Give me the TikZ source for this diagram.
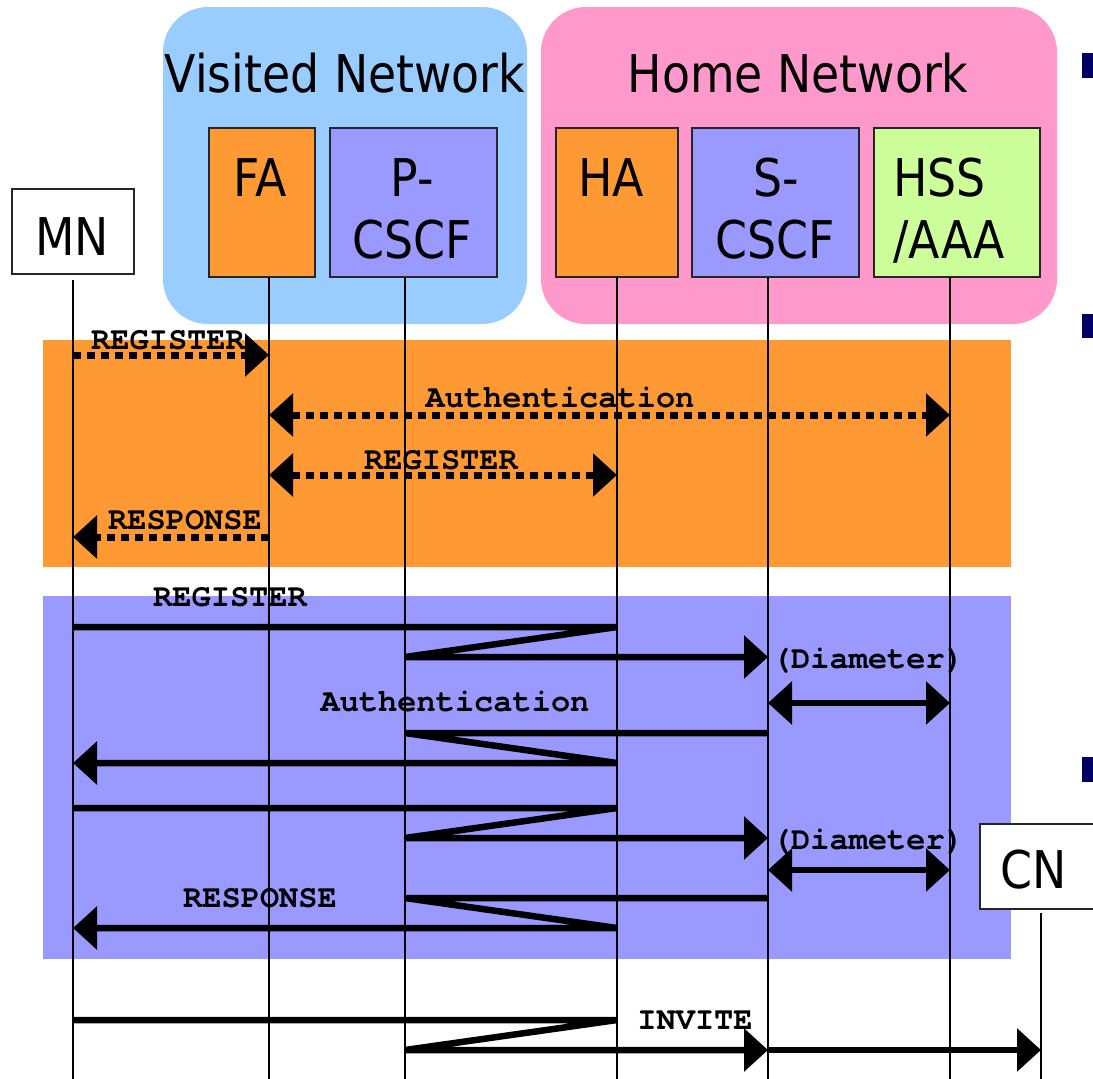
\documentclass[tikz,border=0pt]{standalone}
\usepackage{fontspec}
\setmainfont{DejaVu Sans}
\newfontfamily\tahfont[FakeStretch=0.88]{DejaVu Sans}
\newfontfamily\courfont{texgyrecursor}[Extension=.otf, UprightFont=*-regular, BoldFont=*-bold]
\usetikzlibrary{arrows.meta}
\definecolor{visblue}{HTML}{99CCFF}
\definecolor{homepink}{HTML}{FF99CC}
\definecolor{agorange}{HTML}{FF9933}
\definecolor{cscfpurple}{HTML}{9999FF}
\definecolor{hssgreen}{HTML}{CCFF99}
\definecolor{bulletnavy}{HTML}{000066}
\begin{document}
\begin{tikzpicture}[x=1pt,y=-1pt,
  hd/.style={font=\tahfont\fontsize{52pt}{62pt}\selectfont, inner sep=0pt, anchor=base},
  lbl/.style={font=\courfont\bfseries\fontsize{32pt}{36pt}\selectfont, inner sep=0pt, anchor=base},
  ent/.style={draw=black!85, line width=1.5pt, inner sep=0pt, minimum height=149pt},
  actor/.style={draw=black!85, line width=1.5pt, fill=white, inner sep=0pt, minimum width=122pt, minimum height=85pt},
  life/.style={line width=1.5pt},
  msg/.style={line width=6.5pt, arrows={-Triangle[length=24pt,width=42pt]}},
  bmsg/.style={line width=6.5pt, arrows={Triangle[length=24pt,width=42pt]-Triangle[length=24pt,width=42pt]}},
  msgline/.style={line width=6.5pt},
  dots/.style={line width=7pt, dash pattern=on 8pt off 6pt}
]
\useasboundingbox (0,0) rectangle (1093,1079);
\fill[white] (0,0) rectangle (1093,1079);

% network areas
\fill[visblue, rounded corners=45pt] (163,7) rectangle (527,324);
\fill[homepink, rounded corners=45pt] (541,7) rectangle (1057,324);
\node[hd] (vtitle) at (345,92) {Visited Network};
\node[hd] (htitle) at (798,92) {Home Network};

% bullets at right edge
\fill[bulletnavy] (1082,53) rectangle (1093,78);
\fill[bulletnavy] (1082,314) rectangle (1093,338);
\fill[bulletnavy] (1082,757) rectangle (1093,782);

% entities
\node[actor] (mn) at (73,231.5) {};
\node[ent, fill=agorange, minimum width=106pt] (fa) at (262,202.5) {};
\node[ent, fill=cscfpurple, minimum width=167pt] (pc) at (413.5,202.5) {};
\node[ent, fill=agorange, minimum width=122pt] (ha) at (617,202.5) {};
\node[ent, fill=cscfpurple, minimum width=167pt] (sc) at (775.5,202.5) {};
\node[ent, fill=hssgreen, minimum width=166pt] (hss) at (957,202.5) {};

\node[hd] (mnt) at (72,255) {MN};
\node[hd] (fat) at (260,196) {FA};
\node[hd] (pct1) at (412,196) {P-};
\node[hd] (pct2) at (412,258) {CSCF};
\node[hd] (hat) at (611,196) {HA};
\node[hd] (sct1) at (776,196) {S-};
\node[hd] (sct2) at (775,258) {CSCF};
\node[hd, anchor=base west] (hsst1) at (893,196) {HSS};
\node[hd, anchor=base west] (hsst2) at (893,258) {/AAA};

% bands
\fill[agorange] (43,340) rectangle (1011,567);
\fill[cscfpurple] (43,596) rectangle (1011,959);

% CN actor
\node[actor] (cn) at (1041,866.5) {};
\node[hd] (cnt) at (1034,888) {CN};

% lifelines
\coordinate (mnT) at (73,280);   \coordinate (mnB) at (73,1079);
\coordinate (faT) at (269,277);  \coordinate (faB) at (269,1079);
\coordinate (pcT) at (405,277);  \coordinate (pcB) at (405,1079);
\coordinate (haT) at (617,277);  \coordinate (haB) at (617,1079);
\coordinate (scT) at (768,277);  \coordinate (scB) at (768,1079);
\coordinate (hsT) at (950,277);  \coordinate (hsB) at (950,1079);
\coordinate (cnT) at (1041,913); \coordinate (cnB) at (1041,1079);
\draw[life] (mnT) -- (mnB);
\draw[life] (faT) -- (faB);
\draw[life] (pcT) -- (pcB);
\draw[life] (haT) -- (haB);
\draw[life] (scT) -- (scB);
\draw[life] (hsT) -- (hsB);
\draw[life] (cnT) -- (cnB);

% orange phase (Mobile IP)
\coordinate (m1a) at (73,355);  \coordinate (m1b) at (269,355);
\coordinate (m2a) at (269,415); \coordinate (m2b) at (950,415);
\coordinate (m3a) at (269,475); \coordinate (m3b) at (617,475);
\coordinate (m4a) at (269,537); \coordinate (m4b) at (73,537);
\draw[msg, dots] (m1a) -- (m1b);
\draw[bmsg, dots] (m2a) -- (m2b);
\draw[bmsg, dots] (m3a) -- (m3b);
\draw[msg, dots] (m4a) -- (m4b);
\node[lbl] (l1) at (168,349) {REGISTER};
\node[lbl] (l2) at (560,407) {Authentication};
\node[lbl] (l3) at (441,469) {REGISTER};
\node[lbl] (l4) at (185,529) {RESPONSE};

% purple phase (SIP)
\coordinate (s1a) at (73,627);  \coordinate (s1b) at (617,627);
\coordinate (s1c) at (405,657); \coordinate (s1d) at (768,657);
\draw[msg] (s1a) -- (s1b) -- (s1c) -- (s1d);
\coordinate (d1a) at (768,703); \coordinate (d1b) at (950,703);
\draw[bmsg] (d1a) -- (d1b);
\coordinate (s2a) at (768,733); \coordinate (s2b) at (405,733);
\coordinate (s2c) at (617,763); \coordinate (s2d) at (73,763);
\draw[msg] (s2a) -- (s2b) -- (s2c) -- (s2d);
\coordinate (s3a) at (73,808);  \coordinate (s3b) at (617,808);
\coordinate (s3c) at (405,838); \coordinate (s3d) at (768,838);
\draw[msg] (s3a) -- (s3b) -- (s3c) -- (s3d);
\coordinate (d2a) at (768,870); \coordinate (d2b) at (950,870);
\draw[bmsg] (d2a) -- (d2b);
\coordinate (s4a) at (768,898); \coordinate (s4b) at (405,898);
\coordinate (s4c) at (617,928); \coordinate (s4d) at (73,928);
\draw[msg] (s4a) -- (s4b) -- (s4c) -- (s4d);
\node[lbl] (l5) at (230,606) {REGISTER};
\node[lbl] (l6) at (868,668) {(Diameter)};
\node[lbl] (l7) at (455,711) {Authentication};
\node[lbl] (l8) at (868,849) {(Diameter)};
\node[lbl] (l9) at (260,907) {RESPONSE};

% INVITE
\coordinate (i1a) at (73,1020);  \coordinate (i1b) at (617,1020);
\coordinate (i1c) at (405,1050); \coordinate (i1d) at (768,1050);
\coordinate (i1e) at (1041,1050);
\draw[msg] (i1a) -- (i1b) -- (i1c) -- (i1d);
\draw[msg] (i1d) -- (i1e);
\node[lbl] (l10) at (695,1029) {INVITE};
\end{tikzpicture}
\end{document}
